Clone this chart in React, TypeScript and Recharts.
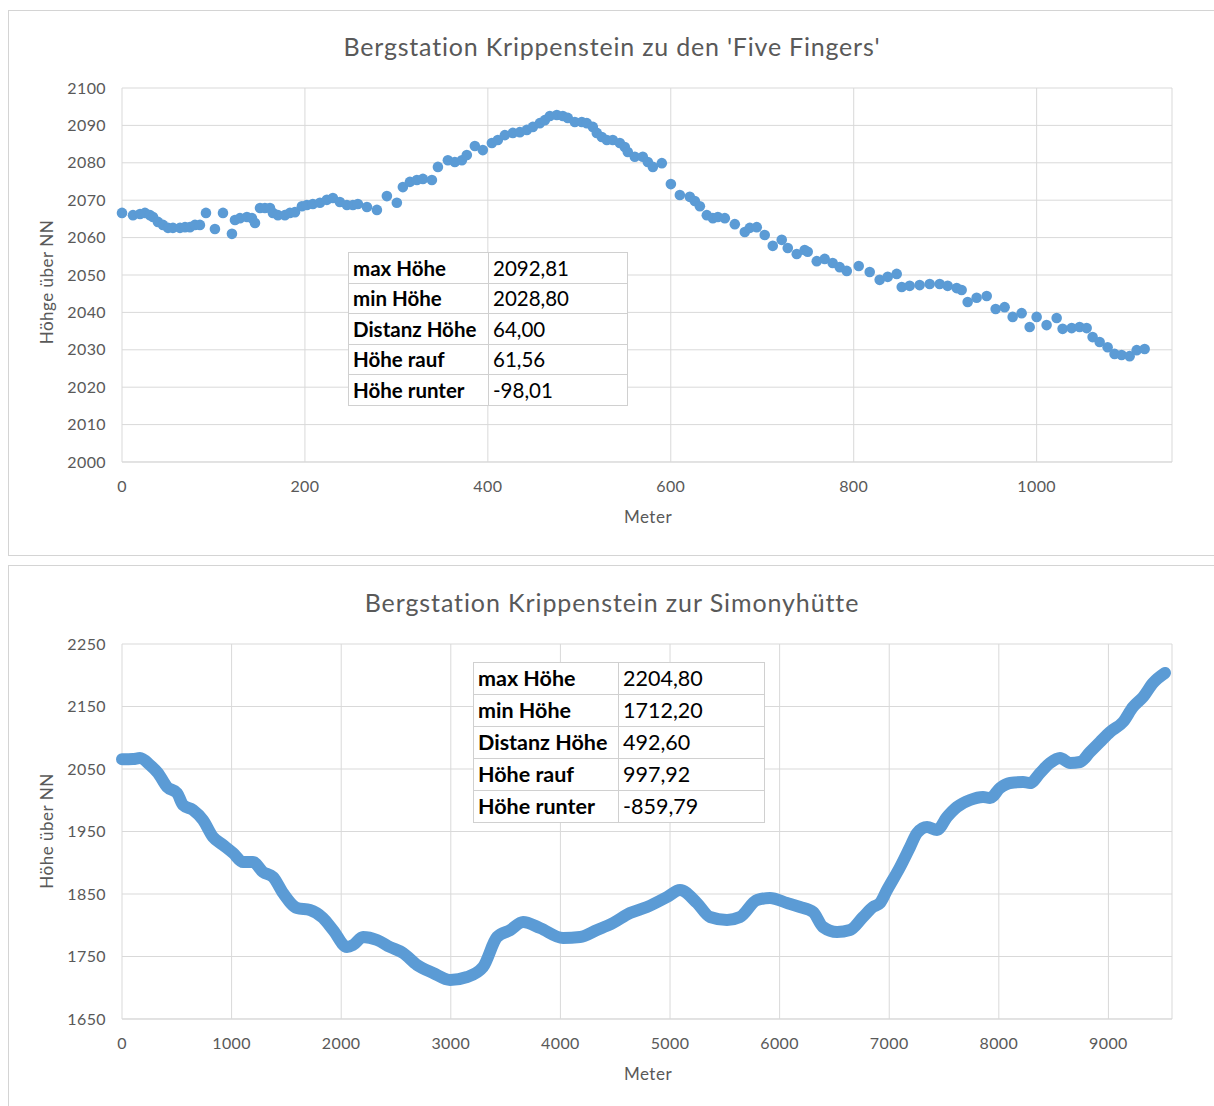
import React from 'react';
import { ScatterChart, Scatter, LineChart, Line, XAxis, YAxis, CartesianGrid } from 'recharts';

// ---------- Chart 1: Bergstation Krippenstein zu den 'Five Fingers' ----------
const topDistance = [
  0, 12.0, 19.7, 25.1, 30.6, 33.9, 39.3, 44.8, 50.3, 55.7, 63.4, 68.9, 74.3, 79.8, 85.2,
  91.8, 101.6, 110.4, 120.2, 123.5, 129.0, 136.6, 142.1, 145.4, 150.9, 156.3, 161.8, 165.0,
  170.5, 178.1, 183.6, 189.1, 196.7, 202.2, 208.7, 216.4, 224.0, 230.6, 238.2, 245.9, 252.5,
  257.9, 267.8, 278.7, 289.6, 300.5, 307.1, 314.8, 322.4, 329.0, 338.8, 345.4, 356.3, 363.9,
  371.6, 377.0, 385.8, 394.5, 404.4, 410.9, 418.6, 427.3, 435.0, 442.6, 449.2, 456.8, 462.3,
  467.8, 475.4, 482.0, 487.4, 495.1, 502.7, 508.2, 514.8, 519.1, 524.6, 530.1, 536.6, 544.3,
  549.7, 553.0, 560.7, 569.4, 574.9, 580.4, 590.2, 600.1, 609.9, 620.8, 626.3, 631.8, 639.4,
  646.0, 651.5, 659.1, 670.0, 680.9, 686.4, 694.0, 702.7, 711.5, 721.3, 727.9, 737.7, 746.4,
  749.7, 759.6, 768.3, 777.0, 784.7, 792.4, 805.5, 817.5, 828.4, 837.2, 847.0, 852.5, 861.2,
  872.1, 883.1, 894.0, 902.7, 912.6, 918.0, 924.6, 934.4, 945.4, 955.2, 965.0, 973.8, 983.6,
  992.4, 1000.0, 1010.9, 1021.9, 1028.4, 1038.3, 1047.0, 1054.7, 1061.2, 1068.9, 1077.6,
  1085.2, 1092.9, 1101.7, 1109.4, 1118.1,
];
const topHeight = [
  2066.6, 2066.0, 2066.3, 2066.6, 2066.0, 2065.5, 2064.2, 2063.4, 2062.6, 2062.6, 2062.6, 2062.8, 2062.8, 2063.4, 2063.4,
  2066.6, 2062.3, 2066.6, 2061.0, 2064.7, 2065.2, 2065.5, 2065.2, 2063.9, 2067.9, 2067.9, 2067.9, 2066.6,
  2066.0, 2066.0, 2066.6, 2066.8, 2068.4, 2068.7, 2069.0, 2069.3, 2070.1, 2070.6, 2069.5, 2068.7, 2068.7,
  2069.0, 2068.2, 2067.4, 2071.1, 2069.3, 2073.5, 2074.9, 2075.4, 2075.7, 2075.4, 2078.9, 2080.7, 2080.2,
  2080.7, 2082.1, 2084.5, 2083.4, 2085.3, 2086.1, 2087.4, 2088.0, 2088.2, 2088.8, 2089.6, 2090.6, 2091.4,
  2092.5, 2092.8, 2092.5, 2092.0, 2090.9, 2090.9, 2090.6, 2089.6, 2088.0, 2086.9, 2086.1, 2086.1, 2085.3,
  2084.2, 2082.9, 2081.6, 2081.6, 2080.2, 2078.9, 2079.9, 2074.3, 2071.4, 2070.9, 2069.8, 2068.4, 2066.0,
  2065.2, 2065.5, 2065.2, 2063.6, 2061.5, 2062.6, 2062.8, 2060.7, 2057.8, 2059.4, 2057.2, 2055.6, 2056.7,
  2056.2, 2053.7, 2054.3, 2053.2, 2052.1, 2051.1, 2052.4, 2050.8, 2048.7, 2049.5, 2050.3, 2046.8, 2047.1,
  2047.3, 2047.6, 2047.6, 2047.1, 2046.5, 2046.0, 2042.8, 2043.9, 2044.4, 2040.9, 2041.4, 2038.8, 2039.8,
  2036.1, 2038.8, 2036.6, 2038.5, 2035.6, 2035.8, 2036.1, 2035.8, 2033.4, 2032.1, 2030.7,
  2028.9, 2028.6, 2028.3, 2029.9, 2030.2,
];
const topXTicks = [0, 200, 400, 600, 800, 1000];
const topYTicks = [2000, 2010, 2020, 2030, 2040, 2050, 2060, 2070, 2080, 2090, 2100];
const topStatLabels = ['max Höhe', 'min Höhe', 'Distanz Höhe', 'Höhe rauf', 'Höhe runter'];
const topStatValues = ['2092,81', '2028,80', '64,00', '61,56', '-98,01'];

// ---------- Chart 2: Bergstation Krippenstein zur Simonyhütte ----------
const botDistance = [
  0, 100, 164, 255, 328, 411, 502, 557, 648, 739, 830, 922, 1013, 1104, 1195, 1286, 1378, 1469,
  1597, 1715, 1834, 1925, 2053, 2108, 2199, 2327, 2445, 2564, 2692, 2838, 2993, 3148, 3294, 3422,
  3540, 3659, 3814, 4024, 4179, 4334, 4480, 4635, 4790, 4973, 5091, 5246, 5365, 5520, 5639, 5794,
  5912, 6068, 6186, 6305, 6396, 6524, 6642, 6761, 6852, 6916, 6980, 7099, 7190, 7254, 7345, 7436,
  7527, 7618, 7737, 7856, 7920, 8011, 8102, 8221, 8285, 8376, 8467, 8558, 8650, 8741, 8832, 8923,
  9015, 9133, 9224, 9316, 9407, 9516,
];
const botHeight = [
  2065.6, 2066.0, 2067.6, 2056.4, 2043.6, 2021.2, 2011.6, 1992.4, 1984.4, 1968.4, 1941.2, 1928.4, 1915.6, 1901.2, 1901.2, 1885.2, 1877.2, 1851.6,
  1827.6, 1824.4, 1811.6, 1792.4, 1765.2, 1768.4, 1781.2, 1776.4, 1765.2, 1755.6, 1736.4, 1723.6, 1712.4, 1717.2, 1733.2, 1781.2,
  1792.0, 1805.2, 1795.6, 1779.6, 1781.2, 1792.4, 1803.6, 1819.6, 1829.2, 1845.2, 1856.4, 1835.6, 1813.2, 1808.4, 1813.2, 1840.4,
  1843.6, 1835.6, 1829.2, 1821.2, 1797.2, 1789.2, 1792.4, 1813.2, 1829.2, 1835.6, 1856.4, 1893.2, 1925.2, 1947.6, 1957.2, 1952.4,
  1973.2, 1989.2, 2000.4, 2005.2, 2003.6, 2019.6, 2027.6, 2029.2, 2027.6, 2043.6, 2059.6, 2067.6, 2059.6, 2061.2, 2077.2, 2093.2,
  2109.2, 2125.2, 2149.2, 2165.2, 2187.6, 2203.6,
];
const botXTicks = [0, 1000, 2000, 3000, 4000, 5000, 6000, 7000, 8000, 9000];
const botYTicks = [1650, 1750, 1850, 1950, 2050, 2150, 2250];
const botStatLabels = ['max Höhe', 'min Höhe', 'Distanz Höhe', 'Höhe rauf', 'Höhe runter'];
const botStatValues = ['2204,80', '1712,20', '492,60', '997,92', '-859,79'];

const topData = topDistance.map((d, i) => ({ d, h: topHeight[i] }));
const botData = botDistance.map((d, i) => ({ d, h: botHeight[i] }));

const FONT = 'Lato, "Open Sans", sans-serif';
const GRAY = '#595959';
const GRID = '#d9d9d9';
const BLUE = '#5b9bd5';

const tickStyle = { fill: GRAY, fontSize: 16, fontFamily: FONT, letterSpacing: 0.4 };

function StatTable({ labels, values, left, top, col1, col2, rowH, fontSize }: any) {
  return (
    <table
      style={{
        position: 'absolute', left, top, borderCollapse: 'collapse', background: '#fff',
        fontFamily: 'Lato, sans-serif', fontSize, color: '#000', tableLayout: 'fixed', width: col1 + col2,
      }}
    >
      <tbody>
        {labels.map((l: string, i: number) => (
          <tr key={l} style={{ height: rowH }}>
            <td style={{ width: col1, border: '1px solid #d0d0d0', padding: '0 4px', fontWeight: 700, boxSizing: 'border-box', whiteSpace: 'nowrap', lineHeight: 1 }}>{l}</td>
            <td style={{ width: col2, border: '1px solid #d0d0d0', padding: '0 4px', boxSizing: 'border-box', whiteSpace: 'nowrap', lineHeight: 1 }}>{values[i]}</td>
          </tr>
        ))}
      </tbody>
    </table>
  );
}

const Dot = (p: any) => <circle cx={p.cx} cy={p.cy} r={5.3} fill={BLUE} />;

const axisTitle = { fontFamily: FONT, fontSize: 17, color: GRAY, lineHeight: '20px', letterSpacing: 0.5 };

export default function App() {
  return (
    <div style={{ position: 'absolute', left: 0, top: 0, width: 1214, height: 1106, overflow: 'hidden', background: '#fff' }}>
      {/* box 1 */}
      <div style={{ position: 'absolute', left: 8, top: 10, width: 1212, height: 546, border: '1px solid #d4d4d4', boxSizing: 'border-box' }} />
      {/* box 2 */}
      <div style={{ position: 'absolute', left: 8, top: 565, width: 1212, height: 560, border: '1px solid #d4d4d4', boxSizing: 'border-box' }} />

      <div style={{ position: 'absolute', left: 0, top: 0 }}>
        <ScatterChart width={1214} height={556} margin={{ top: 88, right: 42, bottom: 54, left: 62 }}>
          <CartesianGrid stroke={GRID} strokeWidth={1} />
          <XAxis type="number" dataKey="d" domain={[0, 1148]} ticks={topXTicks} interval={0}
            tickLine={false} tickSize={5} tickMargin={14} axisLine={{ stroke: GRID }} tick={tickStyle} height={40} />
          <YAxis type="number" dataKey="h" domain={[2000, 2100]} ticks={topYTicks} interval={0}
            tickLine={false} tickSize={0} tickMargin={16} axisLine={false} tick={tickStyle} width={60} />
          <Scatter data={topData} fill={BLUE} shape={Dot} isAnimationActive={false} />
        </ScatterChart>
      </div>

      <div style={{ position: 'absolute', left: 0, top: 566 }}>
        <LineChart width={1214} height={540} data={botData} margin={{ top: 78, right: 42, bottom: 47, left: 62 }}>
          <CartesianGrid stroke={GRID} strokeWidth={1} />
          <XAxis type="number" dataKey="d" domain={[0, 9580]} ticks={botXTicks} interval={0}
            tickLine={false} tickSize={5} tickMargin={14} axisLine={{ stroke: GRID }} tick={tickStyle} height={40} />
          <YAxis type="number" domain={[1650, 2250]} ticks={botYTicks} interval={0}
            tickLine={false} tickSize={0} tickMargin={16} axisLine={false} tick={tickStyle} width={60} />
          <Line type="monotone" dataKey="h" stroke={BLUE} strokeWidth={12} dot={false}
            strokeLinecap="round" strokeLinejoin="round" isAnimationActive={false} />
        </LineChart>
      </div>

      {/* titles and axis titles */}
      <div style={{ position: 'absolute', left: 0, width: 1224, top: 30, textAlign: 'center', fontFamily: FONT, fontSize: 25, letterSpacing: 0.8, color: GRAY, lineHeight: '32px' }}>
        Bergstation Krippenstein zu den 'Five Fingers'
      </div>
      <div style={{ position: 'absolute', left: 0, width: 1224, top: 586, textAlign: 'center', fontFamily: FONT, fontSize: 25, letterSpacing: 0.9, color: GRAY, lineHeight: '32px' }}>
        Bergstation Krippenstein zur Simonyhütte
      </div>
      <div style={{ position: 'absolute', left: 548, width: 200, top: 507, textAlign: 'center', ...axisTitle }}>Meter</div>
      <div style={{ position: 'absolute', left: 548, width: 200, top: 1064, textAlign: 'center', ...axisTitle }}>Meter</div>
      <div style={{ position: 'absolute', left: 47, top: 282, width: 0, height: 0 }}>
        <div style={{ position: 'absolute', left: -100, top: -10, width: 200, textAlign: 'center', transform: 'rotate(-90deg)', whiteSpace: 'nowrap', ...axisTitle }}>Höhge über NN</div>
      </div>
      <div style={{ position: 'absolute', left: 47, top: 831, width: 0, height: 0 }}>
        <div style={{ position: 'absolute', left: -100, top: -10, width: 200, textAlign: 'center', transform: 'rotate(-90deg)', whiteSpace: 'nowrap', ...axisTitle }}>Höhe über NN</div>
      </div>

      <StatTable labels={topStatLabels} values={topStatValues} left={348} top={252} col1={140} col2={139} rowH={30.6} fontSize={20.5} />
      <StatTable labels={botStatLabels} values={botStatValues} left={473} top={662} col1={145} col2={146} rowH={32} fontSize={21.5} />
    </div>
  );
}
